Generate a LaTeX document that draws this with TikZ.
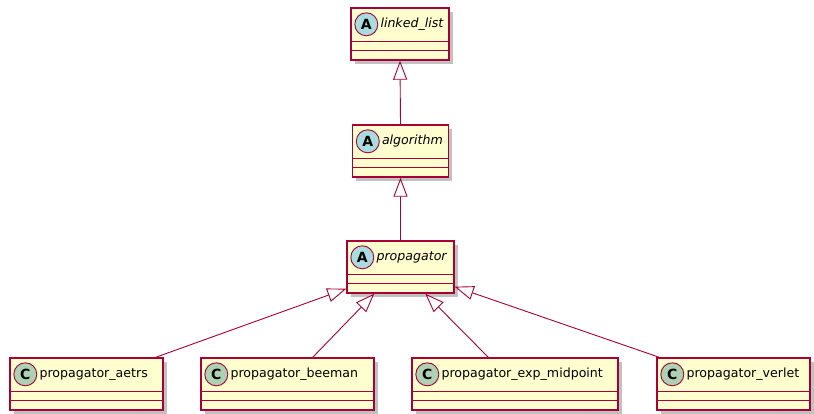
\documentclass[tikz,border=0pt]{standalone}
\usepackage{fontspec}
\setmainfont{DejaVu Sans}
\usetikzlibrary{arrows.meta,shadows}

\definecolor{umlborder}{HTML}{A80036}
\definecolor{umlfill}{HTML}{FEFECE}
\definecolor{abstractspot}{HTML}{A9DCDF}
\definecolor{classspot}{HTML}{ADD1B2}

\tikzset{
  classbox/.style={draw=umlborder, fill=umlfill, line width=1.4pt,
    minimum height=52pt, inner sep=0pt,
    drop shadow={shadow xshift=3.5pt, shadow yshift=-3.5pt, opacity=0.35, fill=black!70}},
  compline/.style={draw=umlborder, line width=1.4pt},
  spot/.style={circle, draw=umlborder, line width=0.9pt, minimum size=23pt, inner sep=0pt,
    font=\fontsize{14}{14}\selectfont\bfseries},
  classname/.style={anchor=west, inner sep=0pt, font=\fontsize{12.6}{15}\selectfont},
  inherit/.style={draw=umlborder, line width=0.9pt,
    -{Triangle[length=19pt, width=14pt, fill=white, line width=0.9pt]}},
}

% #1 name, #2 centre, #3 width, #4 spot letter, #5 spot colour, #6 label
\newcommand{\umlclass}[6]{%
  \node[classbox, minimum width=#3pt] (#1) at (#2) {};
  \draw[compline] ([yshift=-34pt]#1.north west) -- ([yshift=-34pt]#1.north east);
  \draw[compline] ([yshift=-43pt]#1.north west) -- ([yshift=-43pt]#1.north east);
  \node[spot, fill=#5] (#1-spot) at ([xshift=16pt, yshift=-17pt]#1.north west) {#4};
  \node[classname] (#1-name) at ([xshift=30pt, yshift=-17pt]#1.north west) {#6};
}

\begin{document}
\begin{tikzpicture}[x=1pt, y=-1pt]
  \useasboundingbox (0,0) rectangle (814,413);

  \umlclass{linkedlist}{400,34}{98}{A}{abstractspot}{\itshape linked\_list}
  \umlclass{algorithm}{400.5,151}{96}{A}{abstractspot}{\itshape algorithm}
  \umlclass{propagator}{400.5,267}{107}{A}{abstractspot}{\itshape propagator}
  \umlclass{aetrs}{86.5,384}{153}{C}{classspot}{propagator\_aetrs}
  \umlclass{beeman}{287.5,384}{173}{C}{classspot}{propagator\_beeman}
  \umlclass{expmid}{515,384}{206}{C}{classspot}{propagator\_exp\_midpoint}
  \umlclass{verlet}{733.5,384}{153}{C}{classspot}{propagator\_verlet}

  \draw[inherit] (algorithm.north) -- (linkedlist.south);
  \draw[inherit] (propagator.north) -- (algorithm.south);
  \draw[inherit] ([xshift=-8pt]aetrs.north east) -- ([yshift=5pt]propagator.south west);
  \draw[inherit] ([xshift=-62pt]beeman.north east) -- ([xshift=28pt]propagator.south west);
  \draw[inherit] ([xshift=77pt]expmid.north west) -- ([xshift=79pt]propagator.south west);
  \draw[inherit] ([xshift=3pt]verlet.north west) -- ([yshift=7pt]propagator.south east);
\end{tikzpicture}
\end{document}
